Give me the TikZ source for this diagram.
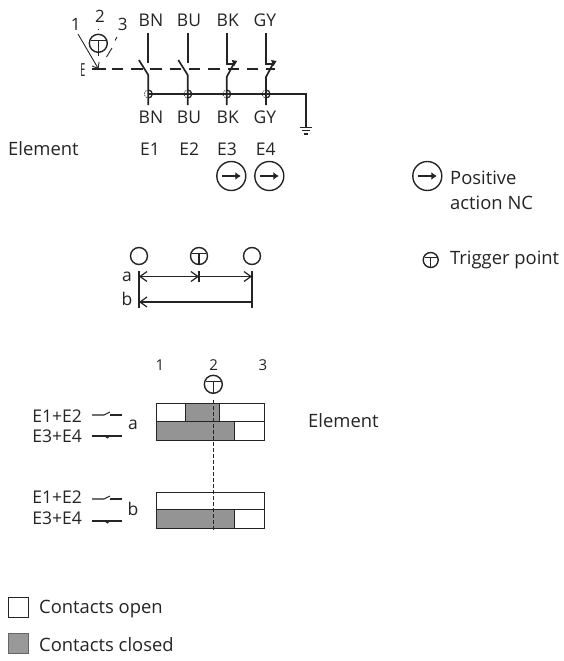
\documentclass[tikz,border=0pt]{standalone}
\usepackage{fontspec}
\setmainfont{Open Sans}
\usetikzlibrary{arrows.meta}
\definecolor{ink}{gray}{0.14}
\definecolor{fillgray}{gray}{0.58}
\tikzset{
  lab/.style={inner sep=0pt,text=ink,font=\fontsize{17.5}{19}\selectfont},
  labl/.style={inner sep=0pt,text=ink,anchor=west,font=\fontsize{18.4}{20}\selectfont},
  num/.style={inner sep=0pt,text=ink,font=\fontsize{15}{17}\selectfont},
  numbig/.style={inner sep=0pt,text=ink,font=\fontsize{17}{19}\selectfont},
  wire/.style={draw=ink,line width=1.05pt},
  thick wire/.style={draw=ink,line width=1.7pt},
  thin wire/.style={draw=ink,line width=0.9pt},
  symb/.style={draw=ink,line width=1.4pt},
  bar/.style={draw=ink,line width=0.9pt},
  dimhead/.style={draw=ink,line width=1.2pt},
  barbs/.tip={Straight Barb[length=7pt,width=10pt]},
}
\newcommand{\trig}[2]{%
  \draw[symb] (#1) circle (#2);
  \draw[symb] (#1) ++(-#2*0.8,-#2*0.3) -- ++(#2*1.6,0);
  \draw[symb] (#1) ++(0,-#2*0.3) -- ++(0,#2*1.3);
}
\newcommand{\posact}[1]{%
  \draw[symb] (#1) circle (14.5);
  \draw[draw=ink,line width=2pt,-{Latex[length=5.5pt,width=8pt]}] (#1) ++(-9,0) -- ++(18.5,0);
}
\begin{document}
\begin{tikzpicture}[x=1pt,y=-1pt]
\useasboundingbox (0,0) rectangle (563,661);
% wire labels
\foreach \n/\t/\x in {a/BN/151,b/BU/189,c/BK/227.7,d/GY/265}{
  \node[lab] (top\n) at (\x,20.5) {\t};
  \node[lab] (bot\n) at (\x,117.5) {\t};
}
\foreach \n/\t/\x in {1/E1/150,2/E2/189.3,3/E3/227,4/E4/265.7}{
  \node[lab] (el\n) at (\x,149) {\t};
}
\node[labl] (element1) at (8,149) {Element};
\node[numbig] (n1) at (75.7,24) {1};
\node[numbig] (n2) at (100,16) {2};
\node[numbig] (n3) at (122.7,24) {3};
\node[inner sep=0pt,text=ink,font=\fontsize{18}{19}\selectfont,xscale=0.5] (eletter) at (83,70) {E};
% trigger at top
\coordinate (t0) at (98.3,43.3);
\trig{t0}{9}
\draw[thin wire] (98.3,29) -- (98.3,30.5);
\draw[thin wire] (98.3,52) -- (98.3,56);
\draw[thin wire,-{Straight Barb[length=5pt,width=8pt]}] (78,34) -- (98.5,69);
\draw[thin wire] (117,37) -- (115,40.5);
\draw[thin wire] (112,48) -- (106.5,57);
% dashed actuator
\draw[wire] (92,69) -- (105.6,69);
\draw[wire,dash pattern=on 11.5pt off 7.8pt] (111.7,69) -- (275,69);
% horizontal bus and ground
\draw[wire] (148.3,94) -- (306,94) -- (306,127.3);
\draw[wire] (300.2,127.3) -- (311.8,127.3);
\draw[wire] (302.3,130.7) -- (309.7,130.7);
\draw[wire] (304.3,134) -- (307.7,134);
% switches
\foreach \x in {148.3,187.7}{
  \draw[thick wire] (\x,33) -- (\x,63);
  \draw[thick wire] (\x,105) -- (\x,75) -- (\x-9.4,60);
}
\foreach \x in {226.7,266}{
  \draw[thick wire,line join=miter] (\x,33) -- (\x,64) -- (\x+7,64);
  \fill[ink] (\x+10.5,61) -- (\x+5,60) -- (\x+7.5,66) -- cycle;
  \draw[thick wire] (\x,105) -- (\x,77) -- (\x+8,62);
}
% junctions
\foreach \x in {148.3,187.7,226.7,266}{
  \draw[draw=ink,line width=0.6pt,dash pattern=on 1.5pt off 1pt] (\x,94) circle (4);
  \draw[draw=ink,line width=1.2pt] (\x,90) arc[start angle=90,end angle=-90,radius=4pt];
}
\posact{231.3,176}
\posact{269.3,176}
% legend right
\posact{427.3,176}
\node[labl] (pos) at (450,178) {Positive};
\node[labl] (act) at (450,203) {action NC};
\coordinate (t1) at (430.7,260);
\trig{t1}{7.5}
\node[labl] (trigp) at (450,260) {Trigger point};
% travel section
\draw[symb] (139,256) circle (8.5);
\draw[symb] (252,256) circle (8.5);
\coordinate (t2) at (199,256);
\trig{t2}{8.5}
\node[lab] (la) at (127,277) {a};
\node[lab] (lb) at (127,299) {b};
\coordinate (la0) at (139,276.5);
\coordinate (la1) at (199,276.5);
\coordinate (la2) at (252,276.5);
\coordinate (lb0) at (139,302);
\coordinate (lb1) at (252,302);
\draw[dimhead,{barbs}-{barbs}] (la0) -- (la1);
\draw[dimhead,-{barbs}] (la1) -- (la2);
\draw[dimhead,{barbs}-] (lb0) -- (lb1);
\draw[wire] (139,271) -- (139,308);
\draw[wire] (252,271) -- (252,308);
\draw[wire] (199,271) -- (199,282);
% chart
\node[num] (c1) at (160,365) {1};
\node[num] (c2) at (213.7,365) {2};
\node[num] (c3) at (263,365) {3};
\coordinate (t3) at (213.3,384.3);
\trig{t3}{9}
\node[lab,anchor=east] (e12a) at (82,416) {E1+E2};
\node[lab,anchor=east] (e34a) at (82,436) {E3+E4};
\node[lab,anchor=east] (e12b) at (82,497) {E1+E2};
\node[lab,anchor=east] (e34b) at (82,518) {E3+E4};
\node[lab] (a2) at (133,425) {a};
\node[lab] (b2) at (133,509) {b};
\foreach \y in {415,499}{
  \draw[wire] (92,\y) -- (104,\y) -- (110,\y-3);
  \draw[wire] (110,\y) -- (122,\y);
}
\foreach \y in {436,521}{
  \draw[wire] (92,\y) -- (122,\y);
  \fill[ink] (104,\y) -- (110,\y) -- (107.5,\y+2.5) -- cycle;
}
\filldraw[bar,fill=white] (156,403) rectangle (264,421);
\filldraw[bar,fill=fillgray] (185,403) rectangle (219,421);
\filldraw[bar,fill=white] (156,421) rectangle (264,440);
\filldraw[bar,fill=fillgray] (156,421) rectangle (234,440);
\filldraw[bar,fill=white] (156,492) rectangle (264,509);
\filldraw[bar,fill=white] (156,509) rectangle (264,528);
\filldraw[bar,fill=fillgray] (156,509) rectangle (234,528);
\draw[draw=ink,line width=0.8pt,dash pattern=on 3.5pt off 2.5pt] (213.7,400) -- (213.7,532);
\node[labl] (element2) at (308,421) {Element};
% legend
\filldraw[bar,fill=white] (8,597) rectangle (28,617);
\filldraw[draw=black!60,line width=0.9pt,fill=black!40] (8,633) rectangle (28,653);
\node[labl] (open) at (39,609) {Contacts open};
\node[labl] (closed) at (39,645) {Contacts closed};
\end{tikzpicture}
\end{document}
